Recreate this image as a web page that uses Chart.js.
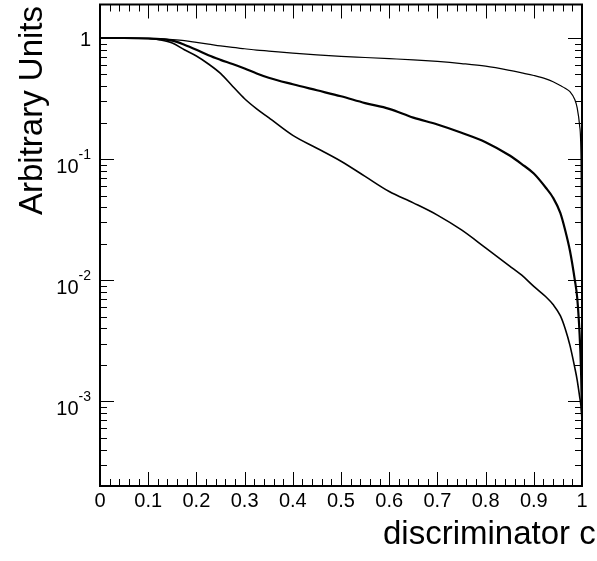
<!DOCTYPE html>
<html>
<head>
<meta charset="utf-8">
<script src="https://cdn.jsdelivr.net/npm/chart.js@4.4.1/dist/chart.umd.min.js"></script>
<style>
  html, body { margin: 0; padding: 0; background: #fff; }
  #wrap { width: 597px; height: 561px; }
</style>
</head>
<body>
<div id="wrap"><canvas id="chart"></canvas></div>
<script>
// cut values on the x axis (shared by the three curves)
const cutValues = [0, 0.05, 0.1, 0.125, 0.15, 0.175, 0.2, 0.225, 0.25, 0.275, 0.3, 0.325, 0.35, 0.4, 0.45,
    0.5, 0.55, 0.6, 0.65, 0.7, 0.75, 0.8, 0.85, 0.875, 0.9, 0.925, 0.94, 0.955, 0.965, 0.975,
    0.985, 0.99, 0.995, 0.998, 1.0];

// top curve first
const upperCurve = [1.0, 1.0, 0.995, 0.985, 0.97, 0.95, 0.92, 0.89, 0.86, 0.835, 0.815, 0.795, 0.78, 0.75, 0.725,
    0.705, 0.69, 0.675, 0.66, 0.64, 0.615, 0.585, 0.54, 0.515, 0.49, 0.46, 0.435, 0.405, 0.385, 0.36,
    0.31, 0.265, 0.19, 0.10, 0.005];
const middleCurve = [1.0, 1.0, 0.99, 0.98, 0.95, 0.88, 0.80, 0.72, 0.66, 0.61, 0.56, 0.51, 0.47, 0.415, 0.37,
    0.33, 0.29, 0.26, 0.22, 0.193, 0.165, 0.138, 0.107, 0.091, 0.076, 0.058, 0.048, 0.036, 0.026, 0.0175,
    0.0101, 0.0072, 0.0036, 0.0018, 0.0008];
const lowerCurve = [1.0, 1.0, 0.99, 0.965, 0.91, 0.8, 0.71, 0.61, 0.51, 0.40, 0.315, 0.26, 0.22, 0.157, 0.123,
    0.096, 0.072, 0.054, 0.0435, 0.0345, 0.026, 0.0185, 0.0131, 0.011, 0.0089, 0.0073, 0.0063, 0.0051, 0.0040, 0.0029,
    0.0019, 0.0015, 0.0011, 0.0009, 0.0007];

// axis ticks
const xTickLabels = ['0', '0.1', '0.2', '0.3', '0.4', '0.5', '0.6', '0.7', '0.8', '0.9', '1'];
const yDecades = [0, -1, -2, -3];

const xMin = 0, xMax = 1;
const yMin = 2e-4, yMax = 1.89;
const FONT = '"Liberation Sans", Arial, Helvetica, sans-serif';

function toPoints(ys) {
    return cutValues.map((x, i) => ({ x: x, y: ys[i] }));
}

// ROOT style frame, inward ticks and labels
const rootAxes = {
    id: 'rootAxes',
    afterDraw(chart) {
        const ctx = chart.ctx;
        const area = chart.chartArea;
        const xs = chart.scales.x;
        const ys = chart.scales.y;
        ctx.save();
        ctx.strokeStyle = '#000';
        ctx.fillStyle = '#000';

        // x ticks: major every 0.1, minor every 0.02
        ctx.lineWidth = 1;
        ctx.beginPath();
        for (let i = 0; i <= 50; i++) {
            const px = Math.round(xs.getPixelForValue(i * 0.02)) + 0.5;
            const len = (i % 5 === 0) ? 14 : 7;
            ctx.moveTo(px, area.bottom); ctx.lineTo(px, area.bottom - len);
            ctx.moveTo(px, area.top); ctx.lineTo(px, area.top + len);
        }
        // y ticks: decades and 2..9 in between
        for (let d = -4; d <= 0; d++) {
            for (let m = 1; m <= 9; m++) {
                const v = m * Math.pow(10, d);
                if (v < yMin || v > yMax) continue;
                const py = Math.round(ys.getPixelForValue(v)) + 0.5;
                const len = (m === 1) ? 14 : 7;
                ctx.moveTo(area.left, py); ctx.lineTo(area.left + len, py);
                ctx.moveTo(area.right, py); ctx.lineTo(area.right - len, py);
            }
        }
        ctx.stroke();

        // frame
        ctx.lineWidth = 2;
        ctx.strokeRect(area.left, area.top, area.right - area.left, area.bottom - area.top);

        // x tick labels
        ctx.font = '20px ' + FONT;
        ctx.textAlign = 'center';
        ctx.textBaseline = 'middle';
        xTickLabels.forEach((lab, i) => {
            ctx.fillText(lab, xs.getPixelForValue(i / 10), area.bottom + 15);
        });

        // y tick labels, 10^n written with a raised exponent
        yDecades.forEach(n => {
            const py = ys.getPixelForValue(Math.pow(10, n));
            const right = area.left - 9;
            ctx.textBaseline = 'alphabetic';
            ctx.textAlign = 'right';
            if (n === 0) {
                ctx.font = '20px ' + FONT;
                ctx.fillText('1', right, py + 8);
            } else {
                ctx.font = '14px ' + FONT;
                const exp = String(n);
                ctx.fillText(exp, right, py);
                const ew = ctx.measureText(exp).width;
                ctx.font = '20px ' + FONT;
                ctx.fillText('10', right - ew, py + 14);
            }
        });

        // axis titles
        ctx.font = '33px ' + FONT;
        ctx.textAlign = 'left';
        ctx.textBaseline = 'alphabetic';
        ctx.fillText('discriminator cut', 383, 544);

        ctx.save();
        ctx.translate(42, 6);
        ctx.rotate(-Math.PI / 2);
        ctx.textAlign = 'right';
        ctx.fillText('Arbitrary Units', 0, 0);
        ctx.restore();

        ctx.restore();
    }
};

const ctx = document.getElementById('chart').getContext('2d');
new Chart(ctx, {
    type: 'line',
    data: {
        datasets: [
            { data: toPoints(upperCurve), borderColor: '#000', borderWidth: 1.2 },
            { data: toPoints(middleCurve), borderColor: '#000', borderWidth: 2.2 },
            { data: toPoints(lowerCurve), borderColor: '#000', borderWidth: 1.6 }
        ]
    },
    options: {
        responsive: true,
        maintainAspectRatio: false,
        animation: false,
        layout: { padding: { left: 100, right: 15, top: 4.5, bottom: 75 } },
        elements: {
            point: { radius: 0 },
            line: { cubicInterpolationMode: 'monotone', fill: false }
        },
        plugins: {
            legend: { display: false },
            tooltip: { enabled: false }
        },
        scales: {
            x: { type: 'linear', min: xMin, max: xMax, display: false },
            y: { type: 'logarithmic', min: yMin, max: yMax, display: false }
        }
    },
    plugins: [rootAxes]
});
</script>
</body>
</html>
